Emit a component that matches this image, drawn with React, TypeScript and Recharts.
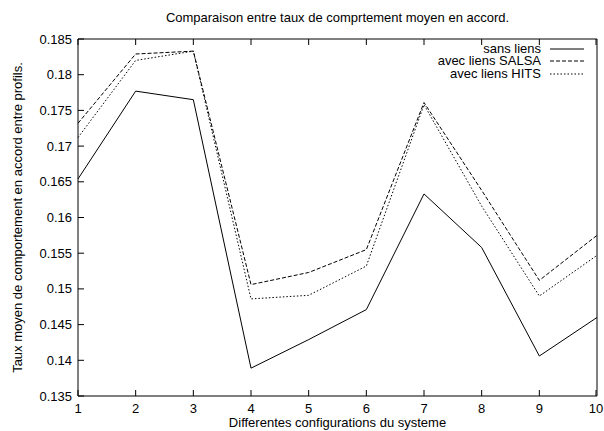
import React from "react"
import { Line, LineChart, XAxis, YAxis } from "recharts"

const configs = [1, 2, 3, 4, 5, 6, 7, 8, 9, 10]
const sansLiens = [0.1654, 0.1777, 0.1765, 0.1389, 0.1429, 0.1471, 0.1633, 0.1558, 0.1406, 0.146]
const avecSalsa = [0.1732, 0.1829, 0.1833, 0.1506, 0.1523, 0.1555, 0.1761, 0.1638, 0.1512, 0.1575]
const avecHits = [0.1712, 0.182, 0.1833, 0.1486, 0.1491, 0.1532, 0.1758, 0.1616, 0.149, 0.1547]
const yTicks = [0.135, 0.14, 0.145, 0.15, 0.155, 0.16, 0.165, 0.17, 0.175, 0.18, 0.185]

const FONT = "'Liberation Sans', Arial, Helvetica, sans-serif"
const TIC = 6

const series = [
  { key: "sans", name: "sans liens", dash: undefined as string | undefined },
  { key: "salsa", name: "avec liens SALSA", dash: "4 2" },
  { key: "hits", name: "avec liens HITS", dash: "1.5 2" },
]

const data = configs.map((x, i) => ({
  x,
  sans: sansLiens[i],
  salsa: avecSalsa[i],
  hits: avecHits[i],
}))

// gnuplot draws the tic marks inside the box, so the ticks are custom
const BottomTick = ({ x, y, payload }: any) => (
  <g>
    <line x1={x} y1={y - 13} x2={x} y2={y - 13 - TIC} stroke="#000" />
    <text x={x} y={y + 4} textAnchor="middle" fill="#000" fontSize={13} fontFamily={FONT}>
      {payload.value}
    </text>
  </g>
)

const TopTick = ({ x, y }: any) => <line x1={x} y1={y} x2={x} y2={y + TIC} stroke="#000" />

const LeftTick = ({ x, y, payload }: any) => (
  <g>
    <line x1={x + 6} y1={y} x2={x + 6 + TIC} y2={y} stroke="#000" />
    <text x={x} y={y + 4.5} textAnchor="end" fill="#000" fontSize={13} fontFamily={FONT}>
      {payload.value}
    </text>
  </g>
)

const RightTick = ({ x, y }: any) => <line x1={x} y1={y} x2={x - TIC} y2={y} stroke="#000" />

// gnuplot style key: right aligned text with the line sample after it
function GnuplotKey() {
  return (
    <div
      style={{
        position: "absolute",
        top: 42.5,
        right: 20,
        fontFamily: FONT,
        fontSize: 13,
        color: "#000",
      }}
    >
      {series.map((s) => (
        <div key={s.key} style={{ display: "flex", alignItems: "center", justifyContent: "flex-end", height: 12.5 }}>
          <span style={{ lineHeight: "12.5px" }}>{s.name}</span>
          <svg width={43} height={10}>
            <line x1={9} y1={5} x2={43} y2={5} stroke="#000" strokeWidth={1} strokeDasharray={s.dash} />
          </svg>
        </div>
      ))}
    </div>
  )
}

export default function App() {
  return (
    <div style={{ position: "relative", width: 604, height: 431, background: "#fff" }}>
      <style>{`body{margin:0}`}</style>
      <div
        style={{
          position: "absolute",
          top: 10,
          left: 78,
          width: 519,
          textAlign: "center",
          fontFamily: FONT,
          fontSize: 13,
          lineHeight: "15px",
          color: "#000",
        }}
      >
        Comparaison entre taux de comprtement moyen en accord.
      </div>
      <LineChart width={604} height={431} data={data} margin={{ top: 38, right: 6, bottom: 0, left: 18 }}>
        <XAxis
          dataKey="x"
          type="number"
          domain={[1, 10]}
          ticks={configs}
          tickLine={false}
          tickSize={0}
          tickMargin={13}
          height={35}
          stroke="#000"
          tick={<BottomTick />}
          label={{
            value: "Differentes configurations du systeme",
            position: "insideBottom",
            offset: 4,
            fill: "#000",
            fontSize: 13,
            fontFamily: FONT,
          }}
        />
        <XAxis
          xAxisId="top"
          dataKey="x"
          type="number"
          orientation="top"
          domain={[1, 10]}
          ticks={configs}
          tickLine={false}
          tickSize={0}
          tickMargin={0}
          height={1}
          stroke="#000"
          tick={<TopTick />}
        />
        <YAxis
          domain={[0.135, 0.185]}
          ticks={yTicks}
          tickLine={false}
          tickSize={0}
          tickMargin={6}
          width={60}
          stroke="#000"
          tick={<LeftTick />}
          label={{
            value: "Taux moyen de comportement en accord entre profils.",
            angle: -90,
            position: "center",
            dx: -30.5,
            fill: "#000",
            fontSize: 13,
            fontFamily: FONT,
          }}
        />
        <YAxis
          yAxisId="right"
          orientation="right"
          domain={[0.135, 0.185]}
          ticks={yTicks}
          tickLine={false}
          tickSize={0}
          tickMargin={0}
          width={1}
          stroke="#000"
          tick={<RightTick />}
        />
        {series.map((s) => (
          <Line
            key={s.key}
            dataKey={s.key}
            name={s.name}
            type="linear"
            stroke="#000"
            strokeWidth={1}
            strokeDasharray={s.dash}
            dot={false}
            isAnimationActive={false}
          />
        ))}
      </LineChart>
      <GnuplotKey />
    </div>
  )
}
